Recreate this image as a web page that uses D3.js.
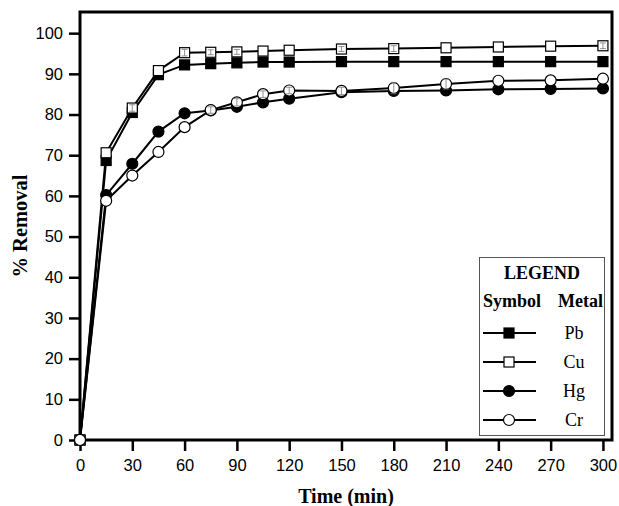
<!DOCTYPE html>
<html>
<head>
<meta charset="utf-8">
<script src="https://cdn.jsdelivr.net/npm/d3@7"></script>
<style>
  body { margin: 0; background: #fff; }
  svg { display: block; }
</style>
</head>
<body>
<svg id="chart" width="619" height="506"></svg>
<script>
// sampling times (min)
const times = [0, 15, 30, 45, 60, 75, 90, 105, 120, 150, 180, 210, 240, 270, 300];

// % removal
const pb = [0, 68.7, 80.5, 89.8, 92.2, 92.5, 92.7, 92.9, 92.9, 93, 93, 93, 93, 93, 93];
const cu = [0, 70.6, 81.6, 90.8, 95.2, 95.3, 95.4, 95.6, 95.8, 96.1, 96.2, 96.4, 96.6, 96.8, 96.9];
const hg = [0, 60.2, 67.9, 75.8, 80.3, 81.0, 81.9, 83.0, 83.9, 85.5, 85.8, 85.9, 86.2, 86.3, 86.4];
const cr = [0, 58.8, 65.0, 70.8, 76.9, 81.1, 83.0, 85.0, 85.9, 85.8, 86.5, 87.5, 88.3, 88.4, 88.8];

// small error bars (hidden inside the filled markers, faint in the open ones)
const pbErr = [0, 0.5, 0.5, 0.5, 0.4, 0.3, 0.3, 0.3, 0.3, 0.3, 0.3, 0.3, 0.3, 0.3, 0.3];
const cuErr = [0, 0, 0.8, 0, 0.8, 0.6, 0.6, 0, 0, 0.6, 0.7, 0, 0, 0, 0.7];
const hgErr = [0, 0.5, 0.5, 0.5, 0.8, 0.5, 0.5, 0.5, 0.5, 0.5, 0.5, 0.5, 0.6, 0.8, 0.6];
const crErr = [0, 0, 0, 0, 0, 0.8, 0.9, 0.8, 0.8, 0.9, 1.4, 1.2, 0, 0, 0];

const xTicks = [0, 30, 60, 90, 120, 150, 180, 210, 240, 270, 300];
const yTicks = [0, 10, 20, 30, 40, 50, 60, 70, 80, 90, 100];

const series = [
  { name: "Pb", values: pb, errs: pbErr, shape: "square", fill: "#000" },
  { name: "Cu", values: cu, errs: cuErr, shape: "square", fill: "#fff" },
  { name: "Hg", values: hg, errs: hgErr, shape: "circle", fill: "#000" },
  { name: "Cr", values: cr, errs: crErr, shape: "circle", fill: "#fff" }
];

const svg = d3.select("#chart");
const plotLeft = 80, plotRight = 612, plotTop = 12, plotBottom = 440;

const x = d3.scaleLinear().domain([0, 305.2]).range([plotLeft, plotRight]);
const y = d3.scaleLinear().domain([0, 105.2]).range([plotBottom, plotTop]);

// axes
const xAxis = svg.append("g")
  .attr("transform", `translate(0,${plotBottom})`)
  .call(d3.axisBottom(x).tickValues(xTicks).tickSize(11).tickPadding(8));
const yAxis = svg.append("g")
  .attr("transform", `translate(${plotLeft},0)`)
  .call(d3.axisLeft(y).tickValues(yTicks).tickSize(11).tickPadding(6));

[xAxis, yAxis].forEach((g) => {
  g.select(".domain").remove();
  g.selectAll(".tick line").attr("stroke", "#000").attr("stroke-width", 2.5);
  g.selectAll(".tick text")
    .attr("fill", "#000")
    .style("font-family", "'Liberation Sans', Arial, sans-serif")
    .style("font-size", "16.5px");
});

// frame
svg.append("rect")
  .attr("x", plotLeft).attr("y", plotTop)
  .attr("width", plotRight - plotLeft).attr("height", plotBottom - plotTop)
  .attr("fill", "none").attr("stroke", "#000").attr("stroke-width", 3);

// lines
const line = d3.line()
  .x((d, i) => x(times[i]))
  .y((d) => y(d));

series.forEach((s) => {
  svg.append("path")
    .datum(s.values)
    .attr("fill", "none")
    .attr("stroke", "#000")
    .attr("stroke-width", 2)
    .attr("d", line);
});

function drawMarker(g, shape, fill, cx, cy) {
  if (shape === "square") {
    g.append("rect")
      .attr("x", cx - 5).attr("y", cy - 5)
      .attr("width", 10).attr("height", 10)
      .attr("fill", fill).attr("stroke", "#000").attr("stroke-width", 1.2);
  } else {
    g.append("circle")
      .attr("cx", cx).attr("cy", cy).attr("r", 5.5)
      .attr("fill", fill).attr("stroke", "#000").attr("stroke-width", 1.2);
  }
}

// markers + error bars
series.forEach((s) => {
  const g = svg.append("g");
  s.values.forEach((v, i) => {
    const cx = x(times[i]), cy = y(v);
    drawMarker(g, s.shape, s.fill, cx, cy);
    const e = s.errs[i];
    if (e > 0 && s.fill !== "#000") {
      const eg = g.append("g").attr("stroke", "#777").attr("stroke-width", 0.8);
      eg.append("line").attr("x1", cx).attr("x2", cx).attr("y1", y(v + e)).attr("y2", y(v - e));
      eg.append("line").attr("x1", cx - 3).attr("x2", cx + 3).attr("y1", y(v + e)).attr("y2", y(v + e));
      eg.append("line").attr("x1", cx - 3).attr("x2", cx + 3).attr("y1", y(v - e)).attr("y2", y(v - e));
    }
  });
});

// axis titles
const serif = "'Liberation Serif', 'Times New Roman', serif";
svg.append("text")
  .attr("x", (plotLeft + plotRight) / 2).attr("y", 503)
  .attr("text-anchor", "middle")
  .style("font-family", serif)
  .style("font-weight", "bold").style("font-size", "20px")
  .text("Time (min)");

svg.append("text")
  .attr("transform", `translate(27,${(plotTop + plotBottom) / 2}) rotate(-90)`)
  .attr("text-anchor", "middle")
  .style("font-family", serif)
  .style("font-weight", "bold").style("font-size", "20.5px")
  .text("% Removal");

// legend
const lg = svg.append("g");
lg.append("rect")
  .attr("x", 479.5).attr("y", 257.5)
  .attr("width", 125).attr("height", 178)
  .attr("fill", "#fff").attr("stroke", "#555").attr("stroke-width", 1);

lg.append("text").attr("x", 542).attr("y", 279).attr("text-anchor", "middle")
  .style("font-family", serif).style("font-weight", "bold").style("font-size", "18px")
  .text("LEGEND");
lg.append("text").attr("x", 483).attr("y", 307)
  .style("font-family", serif).style("font-weight", "bold").style("font-size", "18px")
  .text("Symbol");
lg.append("text").attr("x", 603).attr("y", 307).attr("text-anchor", "end")
  .style("font-family", serif).style("font-weight", "bold").style("font-size", "18px")
  .text("Metal");

const rowY = d3.scalePoint().domain(series.map((s) => s.name)).range([333, 420]);
series.forEach((s) => {
  const ry = rowY(s.name);
  lg.append("line").attr("x1", 483).attr("x2", 536).attr("y1", ry).attr("y2", ry)
    .attr("stroke", "#000").attr("stroke-width", 2);
  drawMarker(lg, s.shape, s.fill, 509, ry);
  lg.append("text").attr("x", 574).attr("y", ry + 6).attr("text-anchor", "middle")
    .style("font-family", serif).style("font-size", "18px")
    .text(s.name);
});
</script>
</body>
</html>
